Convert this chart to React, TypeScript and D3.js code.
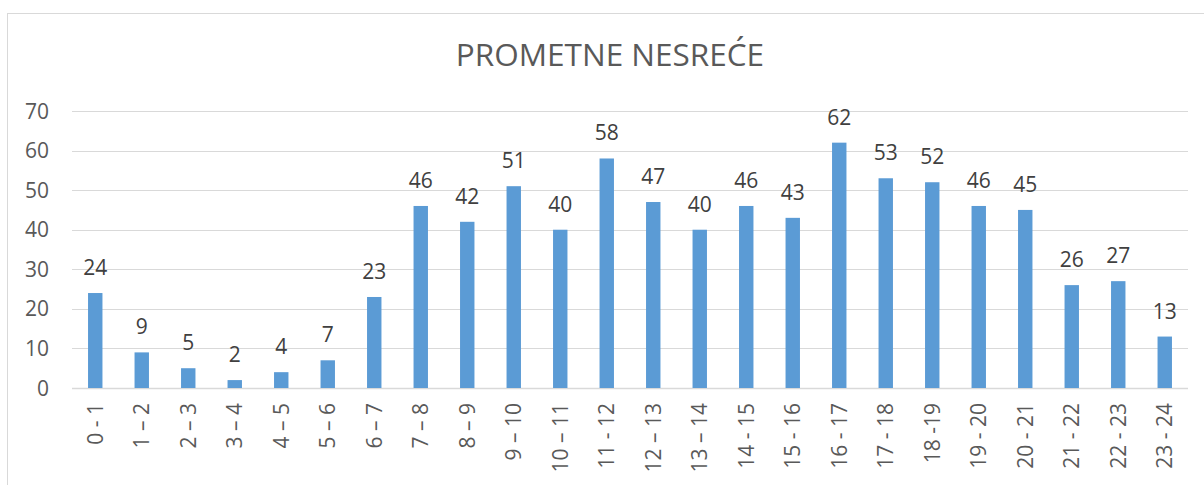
import { useEffect, useRef } from 'react'
import * as d3 from 'd3'

// ─── Data ────────────────────────────────────────────────────────────────────

const hours = [
  '0 - 1', '1 – 2', '2 – 3', '3 – 4', '4 – 5', '5 – 6', '6 – 7', '7 – 8',
  '8 – 9', '9 – 10', '10 – 11', '11 - 12', '12 – 13', '13 – 14', '14 - 15', '15 - 16',
  '16 - 17', '17 - 18', '18 -19', '19 - 20', '20 - 21', '21 - 22', '22 - 23', '23 - 24',
]
const accidents = [24, 9, 5, 2, 4, 7, 23, 46, 42, 51, 40, 58, 47, 40, 46, 43, 62, 53, 52, 46, 45, 26, 27, 13]
const yTicks = [0, 10, 20, 30, 40, 50, 60, 70]
const title = 'PROMETNE NESREĆE'

// ─── Theme ───────────────────────────────────────────────────────────────────

const colors = {
  bar: '#5B9BD5',
  grid: '#D9D9D9',
  axisText: '#595959',
  label: '#404040',
  title: '#595959',
  frame: '#D9D9D9',
}
const font = '"Open Sans", "Noto Sans", sans-serif'

export default function App() {
  const ref = useRef<SVGSVGElement>(null)

  useEffect(() => {
    if (!ref.current) return
    const W = 1204
    const H = 485
    const margin = { top: 111, right: 16, bottom: 97, left: 72 }
    const inner = { w: W - margin.left - margin.right, h: H - margin.top - margin.bottom }

    const svg = d3.select(ref.current)
    svg.selectAll('*').remove()
    svg.attr('width', W).attr('height', H).style('font-family', font)

    // outer chart frame (runs past the right/bottom edge)
    svg.append('rect')
      .attr('x', 7.5)
      .attr('y', 13.5)
      .attr('width', W + 20)
      .attr('height', H + 20)
      .attr('fill', '#fff')
      .attr('stroke', colors.frame)

    svg.append('text')
      .attr('x', 610)
      .attr('y', 66)
      .attr('text-anchor', 'middle')
      .attr('font-size', 31.5)
      .attr('fill', colors.title)
      .text(title)

    const g = svg.append('g').attr('transform', `translate(${margin.left},${margin.top})`)

    const x = d3.scaleBand().domain(hours).range([0, inner.w]).paddingInner(0.69).paddingOuter(0.345)
    const y = d3.scaleLinear().domain([0, 70]).range([inner.h, 0])

    // gridlines
    g.selectAll('.grid')
      .data(yTicks)
      .join('line')
      .attr('class', 'grid')
      .attr('x1', 0)
      .attr('x2', inner.w)
      .attr('y1', (d) => Math.round(y(d)) + 0.5)
      .attr('y2', (d) => Math.round(y(d)) + 0.5)
      .attr('stroke', colors.grid)
      .attr('stroke-width', (d) => (d === 0 ? 1.5 : 1))

    // y tick labels
    g.selectAll('.ytick')
      .data(yTicks)
      .join('text')
      .attr('class', 'ytick')
      .attr('x', -23)
      .attr('y', (d) => y(d))
      .attr('dy', '0.36em')
      .attr('text-anchor', 'end')
      .attr('font-size', 21)
      .attr('fill', colors.axisText)
      .text((d) => d)

    // bars
    g.selectAll('.bar')
      .data(accidents)
      .join('rect')
      .attr('class', 'bar')
      .attr('x', (_, i) => x(hours[i])!)
      .attr('y', (d) => y(d))
      .attr('width', x.bandwidth())
      .attr('height', (d) => inner.h - y(d))
      .attr('fill', colors.bar)

    // value labels
    g.selectAll('.val')
      .data(accidents)
      .join('text')
      .attr('class', 'val')
      .attr('x', (_, i) => x(hours[i])! + x.bandwidth() / 2)
      .attr('y', (d) => y(d) - 18)
      .attr('text-anchor', 'middle')
      .attr('font-size', 21)
      .attr('fill', colors.label)
      .text((d) => d)

    // x labels, rotated
    g.selectAll('.xlab')
      .data(hours)
      .join('text')
      .attr('class', 'xlab')
      .attr('transform', (d) => `translate(${x(d)! + x.bandwidth() / 2},${inner.h + 15}) rotate(-90)`)
      .attr('dy', '0.36em')
      .attr('text-anchor', 'end')
      .attr('font-size', 21)
      .attr('fill', colors.axisText)
      .text((d) => d)
  }, [])

  return <svg ref={ref} style={{ position: 'absolute', left: 0, top: 0, display: 'block' }} />
}
